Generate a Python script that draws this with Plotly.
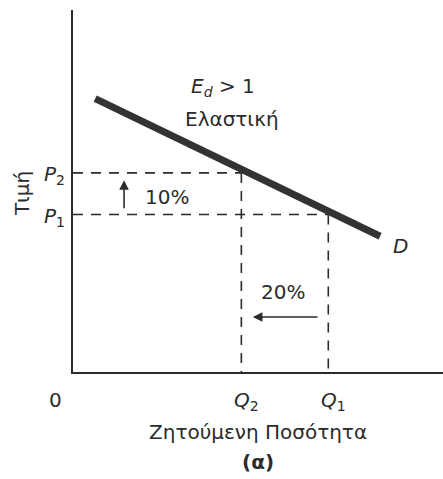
import plotly.graph_objects as go

# Data (abstract units)
demand_q = [0.6, 8.3]
demand_p = [7.55, 3.75]
q_vals = [4.55, 6.9]      # Q2, Q1
p_vals = [5.5, 4.35]      # P2, P1
q_labels = ["<i>Q</i><sub>2</sub>", "<i>Q</i><sub>1</sub>"]
p_labels = ["<i>P</i><sub>2</sub>", "<i>P</i><sub>1</sub>"]

INK = "#2b2b2b"
FONT = "DejaVu Sans, sans-serif"

fig = go.Figure()

# dashed guides
for q, p in zip(q_vals, p_vals):
    fig.add_trace(go.Scatter(x=[0, q], y=[p, p], mode="lines",
                             line=dict(color=INK, width=1.6, dash="10px,8px"),
                             hoverinfo="skip", showlegend=False))
    fig.add_trace(go.Scatter(x=[q, q], y=[p, 0], mode="lines",
                             line=dict(color=INK, width=1.6, dash="10px,8px"),
                             hoverinfo="skip", showlegend=False))

# demand curve
fig.add_trace(go.Scatter(x=demand_q, y=demand_p, mode="lines",
                         line=dict(color="#333333", width=7),
                         hoverinfo="skip", showlegend=False))

ann = []
tf = dict(family=FONT, size=20, color=INK)
lf = dict(family=FONT, size=20, color=INK)
for q, lab in zip(q_vals, q_labels):
    ann.append(dict(x=q, y=0, text=lab, showarrow=False, yshift=-29, xshift=5, font=lf))
for p, lab in zip(p_vals, p_labels):
    ann.append(dict(x=0, y=p, text=lab, showarrow=False, xanchor="right", xshift=-6,
                    yshift=-2, font=lf))
ann += [
    dict(x=-0.0486, y=-0.077, xref="paper", yref="paper", xanchor="center", yanchor="middle",
         text="0", showarrow=False, font=tf),
    dict(x=-0.138, y=0.494, xref="paper", yref="paper", xanchor="center", yanchor="middle",
         text="Τιμή", showarrow=False, textangle=-90, font=tf),
    dict(x=5.0, y=-0.166, xref="x", yref="paper", xanchor="center", yanchor="middle",
         text="Ζητούμενη Ποσότητα", showarrow=False, font=tf),
    dict(x=5.0, y=-0.249, xref="x", yref="paper", xanchor="center", yanchor="middle",
         text="<b>(α)</b>", showarrow=False, font=tf),
    dict(x=2.54, y=4.83, text="10%", showarrow=False, font=tf),
    dict(x=5.68, y=2.21, text="20%", showarrow=False, font=tf),
    dict(x=4.05, y=7.86, text="<i>E</i><sub><i>d</i></sub> > 1", showarrow=False, font=lf),
    dict(x=4.3, y=7.0, text="Ελαστική", showarrow=False, font=tf),
    dict(x=8.84, y=3.48, text="<i>D</i>", showarrow=False, font=lf),
    # arrows
    dict(x=1.38, y=5.3, ax=1.38, ay=4.48, xref="x", yref="y", axref="x", ayref="y",
         text="", showarrow=True, arrowhead=2, arrowsize=1.2, arrowwidth=1.6, arrowcolor=INK),
    dict(x=4.86, y=1.52, ax=6.65, ay=1.52, xref="x", yref="y", axref="x", ayref="y",
         text="", showarrow=True, arrowhead=2, arrowsize=1.2, arrowwidth=1.6, arrowcolor=INK),
]
fig.update_layout(annotations=ann)

fig.update_layout(
    width=443, height=479,
    margin=dict(l=73, r=0, t=10, b=107),
    paper_bgcolor="white", plot_bgcolor="white",
    xaxis=dict(range=[0, 10], showgrid=False, zeroline=False, showticklabels=False,
               ticks="", showline=True, linecolor=INK, linewidth=2, fixedrange=True),
    yaxis=dict(range=[0, 10], showgrid=False, zeroline=False, showticklabels=False,
               ticks="", showline=True, linecolor=INK, linewidth=2, fixedrange=True),
)

fig.write_html("out.html", config={"displayModeBar": False},
               post_script="document.body.style.margin='0';document.body.style.overflow='hidden';")
